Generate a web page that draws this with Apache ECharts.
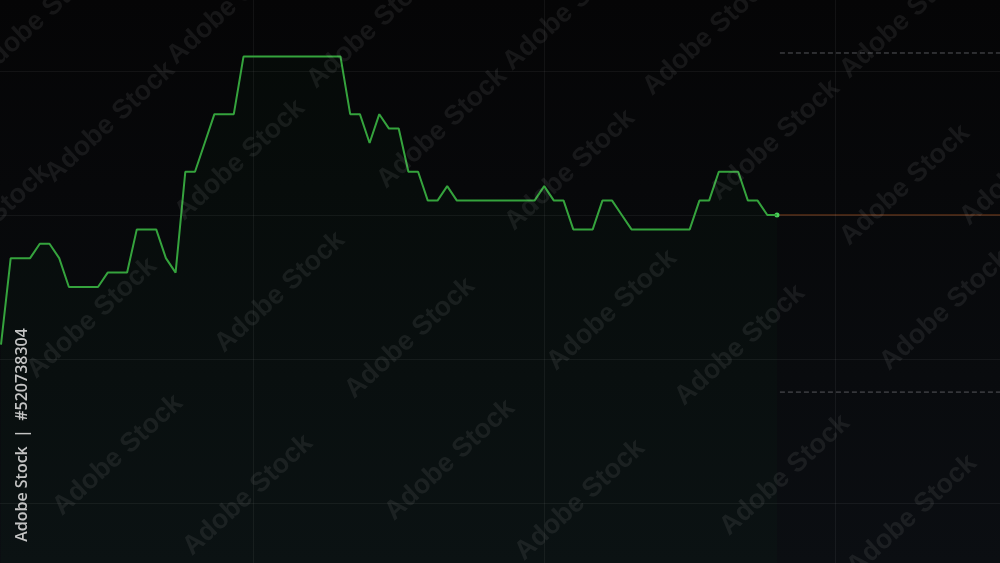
<!DOCTYPE html>
<html>
<head>
<meta charset="utf-8">
<script src="https://cdn.jsdelivr.net/npm/echarts@6/dist/echarts.min.js"></script>
<style>
html,body{margin:0;padding:0;background:#070708;}
#c{width:1000px;height:563px;}
</style>
</head>
<body>
<div id="c"></div>
<script>
// x positions (step index, first point at step 4)
const startStep = 4;
// series values, one per step
const values = [1,7,7,7,8,8,7,5,5,5,5,6,6,6,9,9,9,7,6,13,13,15,17,17,17,
  21,21,21,21,21,21,21,21,21,21,21,
  17,17,15,17,16,16,13,13,11,11,12,11,
  11,11,11,11,11,11,11,11,12,11,11,9,9,9,11,11,10,9,9,9,9,9,9,9,11,11,13,13,13,11,11,10,10];
// reference levels (current, upper band, lower band)
const currentLevel = 10;
const bandLevels = [21.25, -2.3];
// visible axis window
const xRange = [3.897, 106.99];
const yRange = [-14.17, 24.93];
// grid line positions
const xGrid = [30, 60, 90];
const yGrid = [-10, 0, 10, 20];
const watermarkText = 'Adobe Stock';
const idText = 'Adobe Stock  |  #520738304';
const watermarkSpots = [[40,18],[110,122],[240,160],[232,4],[372,28],[442,128],[570,170],[568,10],[708,35],[775,140],[905,18],[905,185],[280,292],[410,338],[612,310],[740,345],[945,310],[92,318],[118,455],[248,495],[450,460],[580,500],[785,475],[912,515],[1025,165],[-15,225]];

const data = values.map((v, i) => [startStep + i, v]);
const lastX = startStep + values.length - 1;

const chart = echarts.init(document.getElementById('c'), null, {renderer: 'canvas'});

const wm = watermarkSpots.map(p => ({
  type: 'text', x: p[0], y: p[1], rotation: 0.74, z: 100,
  style: {text: watermarkText, fill: 'rgba(255,255,255,0.07)', font: 'bold 27px "Liberation Sans", Arial, sans-serif', textAlign: 'center', textVerticalAlign: 'middle'}
}));
wm.push({
  type: 'text', x: 22, y: 435, rotation: Math.PI / 2, z: 101,
  style: {text: idText, fill: '#c4c4c4', font: '600 16px "Open Sans", sans-serif', textAlign: 'center', textVerticalAlign: 'middle'}
});

const hidden = {axisLine: {show: false}, axisTick: {show: false}, axisLabel: {show: false}, splitLine: {show: false}};

chart.setOption({
  backgroundColor: {
    type: 'linear', x: 0, y: 0, x2: 0, y2: 1,
    colorStops: [{offset: 0, color: '#050506'}, {offset: 1, color: '#0b0e12'}]
  },
  animation: false,
  grid: {left: 0, right: 0, top: 0, bottom: 0},
  xAxis: Object.assign({type: 'value', min: xRange[0], max: xRange[1]}, hidden),
  yAxis: Object.assign({type: 'value', min: yRange[0], max: yRange[1]}, hidden),
  graphic: wm,
  series: [
    {
      type: 'line', data: [], silent: true,
      markLine: {
        symbol: 'none', silent: true, label: {show: false},
        lineStyle: {color: 'rgba(255,255,255,0.055)', width: 1, type: 'solid'},
        data: xGrid.map(x => ({xAxis: x})).concat(yGrid.map(y => ({yAxis: y})))
      }
    },
    {
      type: 'line', data: data, showSymbol: false, z: 5,
      lineStyle: {color: '#35a33d', width: 2},
      areaStyle: {color: 'rgba(40,140,55,0.05)', origin: 'start'},
      markPoint: {
        symbol: 'circle', symbolSize: 5,
        itemStyle: {color: '#4ad15a'},
        label: {show: false},
        data: [{coord: [lastX, values[values.length - 1]]}]
      }
    },
    {
      type: 'line', showSymbol: false, silent: true, z: 3,
      data: [[lastX + 0.1, currentLevel], [xRange[1], currentLevel]],
      lineStyle: {color: '#7a3d1a', width: 1}
    },
    {
      type: 'line', showSymbol: false, silent: true, z: 3,
      data: [[lastX + 0.3, bandLevels[0]], [xRange[1], bandLevels[0]]],
      lineStyle: {color: '#56575c', width: 1, type: [5, 3]}
    },
    {
      type: 'line', showSymbol: false, silent: true, z: 3,
      data: [[lastX + 0.3, bandLevels[1]], [xRange[1], bandLevels[1]]],
      lineStyle: {color: '#56575c', width: 1, type: [5, 3]}
    }
  ]
});
</script>
</body>
</html>
